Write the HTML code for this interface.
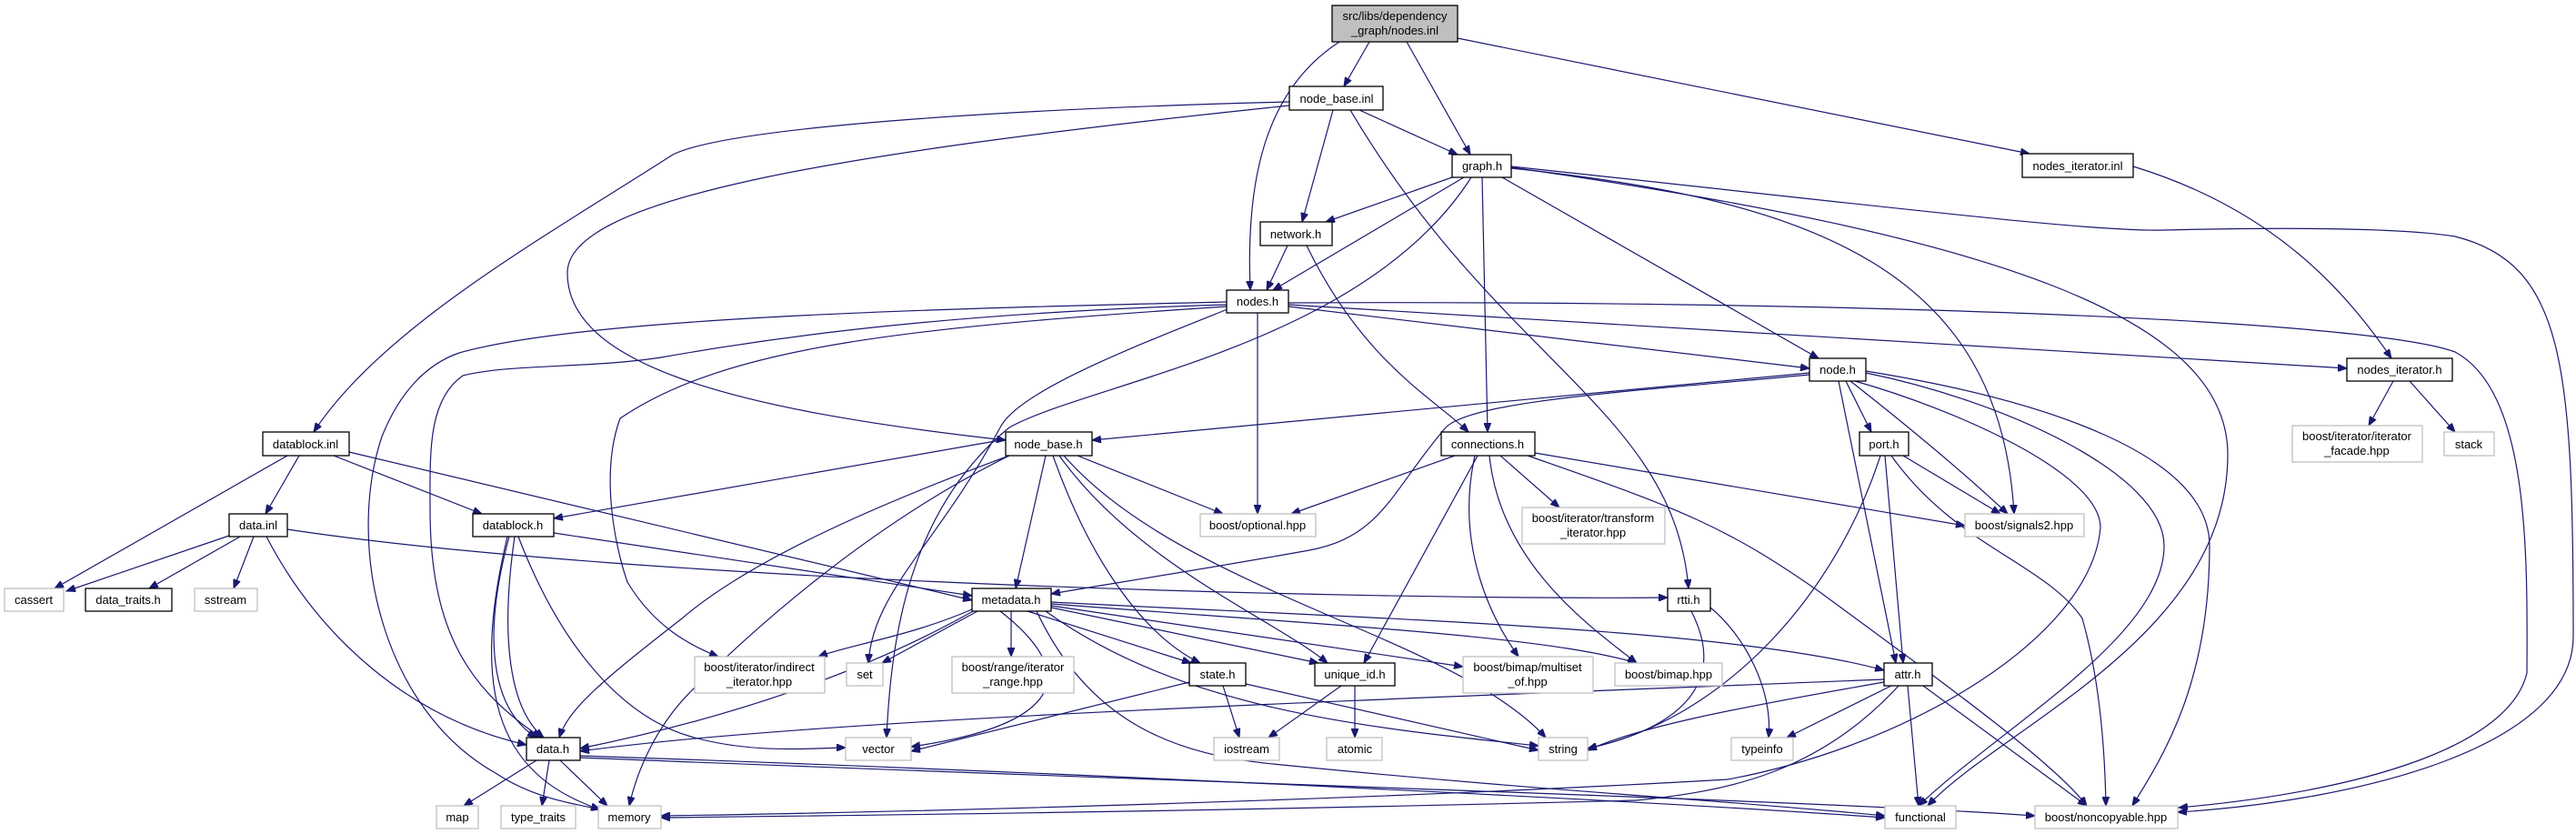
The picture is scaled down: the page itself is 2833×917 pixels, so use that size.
<!DOCTYPE html>
<html><head><meta charset="utf-8"><style>
html,body{margin:0;padding:0;background:#fff;}
svg{display:block;}
text{font-family:"Liberation Sans",sans-serif;font-size:13px;text-anchor:middle;fill:#000;}
.e path{fill:none;stroke:#191970;stroke-width:1.2;}
.n{fill:#fff;stroke:#000;stroke-width:1.3;}
.g{fill:#fff;stroke:#bfbfbf;stroke-width:1.3;}
</style></head><body>
<svg width="2833" height="917" viewBox="0 0 2833 917" xmlns="http://www.w3.org/2000/svg">
<defs><marker id="a" markerUnits="userSpaceOnUse" markerWidth="11" markerHeight="8" refX="10" refY="4" orient="auto"><path d="M0,0 L10,4 L0,8 z" fill="#191970" stroke="#191970"/></marker></defs>
<g class="e" marker-end="url(#a)">
<path d="M1506,46 L1478,95" marker-end="url(#a)"/>
<path d="M1547,46 L1617,170" marker-end="url(#a)"/>
<path d="M1473,46 C1390,100 1370,200 1375,319" marker-end="url(#a)"/>
<path d="M1603,42 L2232,169" marker-end="url(#a)"/>
<path d="M1495,121 L1603,170" marker-end="url(#a)"/>
<path d="M1466,121 L1432,244" marker-end="url(#a)"/>
<path d="M1485,121 C1650,400 1840,450 1857,647" marker-end="url(#a)"/>
<path d="M1418,112 C1100,120 800,140 740,170 C600,260 420,360 345,475" marker-end="url(#a)"/>
<path d="M1418,116 C900,170 624,220 624,300 C624,400 800,450 1106,484" marker-end="url(#a)"/>
<path d="M1597,195 L1458,244" marker-end="url(#a)"/>
<path d="M1610,195 L1400,319" marker-end="url(#a)"/>
<path d="M1618,195 C1500,380 1200,420 1110,470 C1000,560 980,700 975,811" marker-end="url(#a)"/>
<path d="M1630,195 L1636,475" marker-end="url(#a)"/>
<path d="M1652,195 L2000,394" marker-end="url(#a)"/>
<path d="M1662,185 C2000,220 2200,300 2215,565" marker-end="url(#a)"/>
<path d="M1662,184 C2200,260 2450,350 2450,500 C2450,700 2200,800 2120,886" marker-end="url(#a)"/>
<path d="M1662,183 C2100,230 2300,255 2380,253 C2500,250 2640,250 2700,260 C2820,290 2830,400 2830,700 C2830,820 2600,880 2395,893" marker-end="url(#a)"/>
<path d="M1416,270 L1393,319" marker-end="url(#a)"/>
<path d="M1437,270 C1500,400 1580,440 1615,475" marker-end="url(#a)"/>
<path d="M1417,337 L1990,405" marker-end="url(#a)"/>
<path d="M1417,335 L2581,405" marker-end="url(#a)"/>
<path d="M1417,333 C2000,330 2600,350 2700,387 C2780,430 2780,600 2779,740 C2760,820 2600,870 2396,888" marker-end="url(#a)"/>
<path d="M1383,344 L1383,565" marker-end="url(#a)"/>
<path d="M1349,332 C1000,340 640,350 505,388 C470,400 440,430 420,480 C380,600 420,780 545,850 C590,880 640,885 660,890" marker-end="url(#a)"/>
<path d="M1349,335 C1000,345 800,380 727,393 C650,405 560,400 509,413 C470,440 473,500 473,560 C473,700 520,760 595,811" marker-end="url(#a)"/>
<path d="M1349,337 C1000,360 800,380 682,460 C660,520 676,600 690,640 C720,690 760,710 790,722" marker-end="url(#a)"/>
<path d="M1350,340 C1250,380 1120,430 1100,470 C1030,600 960,650 955,729" marker-end="url(#a)"/>
<path d="M2346,183 C2500,230 2580,320 2630,394" marker-end="url(#a)"/>
<path d="M2632,419 L2605,468" marker-end="url(#a)"/>
<path d="M2650,419 L2700,475" marker-end="url(#a)"/>
<path d="M1990,410 L1201,484" marker-end="url(#a)"/>
<path d="M1990,412 C1800,430 1620,440 1590,470 C1530,540 1520,590 1440,605 C1300,630 1200,645 1156,653" marker-end="url(#a)"/>
<path d="M2030,419 L2058,475" marker-end="url(#a)"/>
<path d="M2035,419 C2100,470 2160,520 2208,565" marker-end="url(#a)"/>
<path d="M2022,419 L2085,729" marker-end="url(#a)"/>
<path d="M2040,419 C2150,450 2310,520 2310,580 C2300,700 2100,820 1900,857 C1500,880 1000,893 727,897" marker-end="url(#a)"/>
<path d="M2052,410 C2200,440 2380,520 2380,600 C2380,700 2200,800 2110,886" marker-end="url(#a)"/>
<path d="M2052,408 C2250,440 2430,500 2430,600 C2430,750 2380,830 2345,886" marker-end="url(#a)"/>
<path d="M329,501 L292,565" marker-end="url(#a)"/>
<path d="M367,501 L530,565" marker-end="url(#a)"/>
<path d="M316,501 L60,647" marker-end="url(#a)"/>
<path d="M384,497 L1069,660" marker-end="url(#a)"/>
<path d="M252,589 L73,650" marker-end="url(#a)"/>
<path d="M264,590 L164,647" marker-end="url(#a)"/>
<path d="M279,590 L257,647" marker-end="url(#a)"/>
<path d="M293,590 C350,700 450,790 579,819" marker-end="url(#a)"/>
<path d="M316,582 C700,640 1500,660 1834,657" marker-end="url(#a)"/>
<path d="M560,590 C530,700 540,780 590,811" marker-end="url(#a)"/>
<path d="M566,590 C550,700 560,780 598,811" marker-end="url(#a)"/>
<path d="M558,590 C520,750 540,850 660,890" marker-end="url(#a)"/>
<path d="M570,590 C620,720 690,790 760,810 C830,830 900,822 930,822" marker-end="url(#a)"/>
<path d="M609,586 L1069,655" marker-end="url(#a)"/>
<path d="M1106,483 L609,570" marker-end="url(#a)"/>
<path d="M1150,501 L1117,647" marker-end="url(#a)"/>
<path d="M1185,501 L1345,565" marker-end="url(#a)"/>
<path d="M1158,501 C1200,620 1260,700 1320,729" marker-end="url(#a)"/>
<path d="M1165,501 C1250,620 1400,680 1460,729" marker-end="url(#a)"/>
<path d="M1170,501 C1300,650 1600,700 1700,811" marker-end="url(#a)"/>
<path d="M1110,501 C950,560 820,620 750,680 C660,750 625,780 615,811" marker-end="url(#a)"/>
<path d="M1110,501 C950,580 820,700 760,760 C720,800 700,850 692,886" marker-end="url(#a)"/>
<path d="M1600,501 L1420,565" marker-end="url(#a)"/>
<path d="M1650,501 L1715,558" marker-end="url(#a)"/>
<path d="M1688,498 L2161,578" marker-end="url(#a)"/>
<path d="M1625,501 L1500,729" marker-end="url(#a)"/>
<path d="M1622,501 C1600,600 1640,680 1670,722" marker-end="url(#a)"/>
<path d="M1638,501 C1650,620 1750,690 1800,729" marker-end="url(#a)"/>
<path d="M1680,501 C1850,560 1900,580 2000,650 C2150,760 2260,840 2295,886" marker-end="url(#a)"/>
<path d="M2093,501 L2200,565" marker-end="url(#a)"/>
<path d="M2073,501 L2093,729" marker-end="url(#a)"/>
<path d="M2068,501 C2020,650 1900,790 1746,823" marker-end="url(#a)"/>
<path d="M2080,501 C2150,600 2250,620 2290,680 C2310,750 2315,830 2316,886" marker-end="url(#a)"/>
<path d="M1860,672 C1900,750 1850,800 1746,823" marker-end="url(#a)"/>
<path d="M1881,668 C1920,700 1950,760 1945,811" marker-end="url(#a)"/>
<path d="M1070,672 C950,740 800,790 638,823" marker-end="url(#a)"/>
<path d="M1100,672 C1200,750 1150,800 1002,821" marker-end="url(#a)"/>
<path d="M1075,672 L970,729" marker-end="url(#a)"/>
<path d="M1112,672 L1112,722" marker-end="url(#a)"/>
<path d="M1130,672 L1310,729" marker-end="url(#a)"/>
<path d="M1156,668 L1450,729" marker-end="url(#a)"/>
<path d="M1156,666 L1609,733" marker-end="url(#a)"/>
<path d="M1156,664 C1500,690 1700,700 1800,729" marker-end="url(#a)"/>
<path d="M1069,670 C1000,700 930,710 900,722" marker-end="url(#a)"/>
<path d="M1156,662 C1500,680 1900,690 2072,737" marker-end="url(#a)"/>
<path d="M1140,672 C1200,800 1300,830 1400,840 C1700,870 1900,880 2073,897" marker-end="url(#a)"/>
<path d="M1150,672 C1300,780 1500,800 1692,820" marker-end="url(#a)"/>
<path d="M1308,750 L1002,826" marker-end="url(#a)"/>
<path d="M1345,754 L1363,811" marker-end="url(#a)"/>
<path d="M1370,752 L1692,825" marker-end="url(#a)"/>
<path d="M1475,754 L1395,811" marker-end="url(#a)"/>
<path d="M1490,754 L1490,811" marker-end="url(#a)"/>
<path d="M2072,747 C1500,770 900,790 638,826" marker-end="url(#a)"/>
<path d="M2072,750 C1900,780 1800,800 1746,825" marker-end="url(#a)"/>
<path d="M2080,754 L1965,811" marker-end="url(#a)"/>
<path d="M2098,754 L2110,886" marker-end="url(#a)"/>
<path d="M2115,754 L2295,886" marker-end="url(#a)"/>
<path d="M2088,754 C2000,850 1900,870 1800,880 C1300,893 900,897 727,899" marker-end="url(#a)"/>
<path d="M590,836 L510,886" marker-end="url(#a)"/>
<path d="M604,836 L596,886" marker-end="url(#a)"/>
<path d="M616,836 L668,886" marker-end="url(#a)"/>
<path d="M638,831 C1200,850 1800,880 2073,899" marker-end="url(#a)"/>
<path d="M638,833 C1300,860 2000,880 2238,897" marker-end="url(#a)"/>
</g>
<g>
<rect x="1465" y="6" width="138" height="40" fill="#bfbfbf" stroke="#000" stroke-width="1.3"/>
<text x="1534" y="22">src/libs/dependency</text><text x="1534" y="38">_graph/nodes.inl</text>
<rect class="n" x="1418" y="95" width="103" height="26"/><text x="1470" y="113">node_base.inl</text>
<rect class="n" x="1597" y="170" width="65" height="25"/><text x="1630" y="187">graph.h</text>
<rect class="n" x="1386" y="244" width="79" height="26"/><text x="1425" y="262">network.h</text>
<rect class="n" x="1349" y="319" width="68" height="25"/><text x="1383" y="336">nodes.h</text>
<rect class="n" x="2224" y="169" width="122" height="26"/><text x="2285" y="187">nodes_iterator.inl</text>
<rect class="n" x="1990" y="394" width="62" height="25"/><text x="2021" y="411">node.h</text>
<rect class="n" x="2581" y="394" width="116" height="25"/><text x="2639" y="411">nodes_iterator.h</text>
<rect class="n" x="289" y="475" width="95" height="26"/><text x="336" y="493">datablock.inl</text>
<rect class="n" x="252" y="565" width="64" height="25"/><text x="284" y="582">data.inl</text>
<rect class="n" x="520" y="565" width="89" height="25"/><text x="564" y="582">datablock.h</text>
<rect class="g" x="5" y="647" width="65" height="25"/><text x="37" y="664">cassert</text>
<rect class="n" x="94" y="647" width="95" height="25"/><text x="141" y="664">data_traits.h</text>
<rect class="g" x="214" y="647" width="69" height="25"/><text x="248" y="664">sstream</text>
<rect class="g" x="764" y="722" width="143" height="40"/><text x="835" y="738">boost/iterator/indirect</text><text x="835" y="754">_iterator.hpp</text>
<rect class="n" x="579" y="811" width="59" height="25"/><text x="608" y="828">data.h</text>
<rect class="g" x="480" y="886" width="46" height="25"/><text x="503" y="903">map</text>
<rect class="g" x="551" y="886" width="82" height="25"/><text x="592" y="903">type_traits</text>
<rect class="g" x="658" y="886" width="69" height="25"/><text x="692" y="903">memory</text>
<rect class="n" x="1106" y="475" width="95" height="26"/><text x="1153" y="493">node_base.h</text>
<rect class="n" x="1585" y="475" width="103" height="26"/><text x="1636" y="493">connections.h</text>
<rect class="g" x="1320" y="565" width="127" height="25"/><text x="1383" y="582">boost/optional.hpp</text>
<rect class="g" x="1674" y="558" width="157" height="40"/><text x="1752" y="574">boost/iterator/transform</text><text x="1752" y="590">_iterator.hpp</text>
<rect class="n" x="1069" y="647" width="87" height="25"/><text x="1112" y="664">metadata.h</text>
<rect class="n" x="1834" y="647" width="47" height="25"/><text x="1857" y="664">rtti.h</text>
<rect class="g" x="931" y="729" width="40" height="25"/><text x="951" y="746">set</text>
<rect class="g" x="1047" y="722" width="134" height="40"/><text x="1114" y="738">boost/range/iterator</text><text x="1114" y="754">_range.hpp</text>
<rect class="n" x="1308" y="729" width="62" height="25"/><text x="1339" y="746">state.h</text>
<rect class="n" x="1446" y="729" width="88" height="25"/><text x="1490" y="746">unique_id.h</text>
<rect class="g" x="1609" y="722" width="143" height="40"/><text x="1680" y="738">boost/bimap/multiset</text><text x="1680" y="754">_of.hpp</text>
<rect class="g" x="1776" y="729" width="118" height="25"/><text x="1835" y="746">boost/bimap.hpp</text>
<rect class="g" x="930" y="811" width="72" height="25"/><text x="966" y="828">vector</text>
<rect class="g" x="1335" y="811" width="72" height="25"/><text x="1371" y="828">iostream</text>
<rect class="g" x="1459" y="811" width="61" height="25"/><text x="1490" y="828">atomic</text>
<rect class="g" x="1692" y="811" width="54" height="25"/><text x="1719" y="828">string</text>
<rect class="n" x="2045" y="475" width="54" height="26"/><text x="2072" y="493">port.h</text>
<rect class="g" x="2521" y="468" width="143" height="40"/><text x="2592" y="484">boost/iterator/iterator</text><text x="2592" y="500">_facade.hpp</text>
<rect class="g" x="2688" y="475" width="55" height="26"/><text x="2715" y="493">stack</text>
<rect class="g" x="2161" y="565" width="131" height="25"/><text x="2226" y="582">boost/signals2.hpp</text>
<rect class="n" x="2072" y="729" width="53" height="25"/><text x="2098" y="746">attr.h</text>
<rect class="g" x="1904" y="811" width="68" height="25"/><text x="1938" y="828">typeinfo</text>
<rect class="g" x="2073" y="886" width="78" height="25"/><text x="2112" y="903">functional</text>
<rect class="g" x="2238" y="886" width="157" height="25"/><text x="2316" y="903">boost/noncopyable.hpp</text>
</g>
</svg>
</body></html>
